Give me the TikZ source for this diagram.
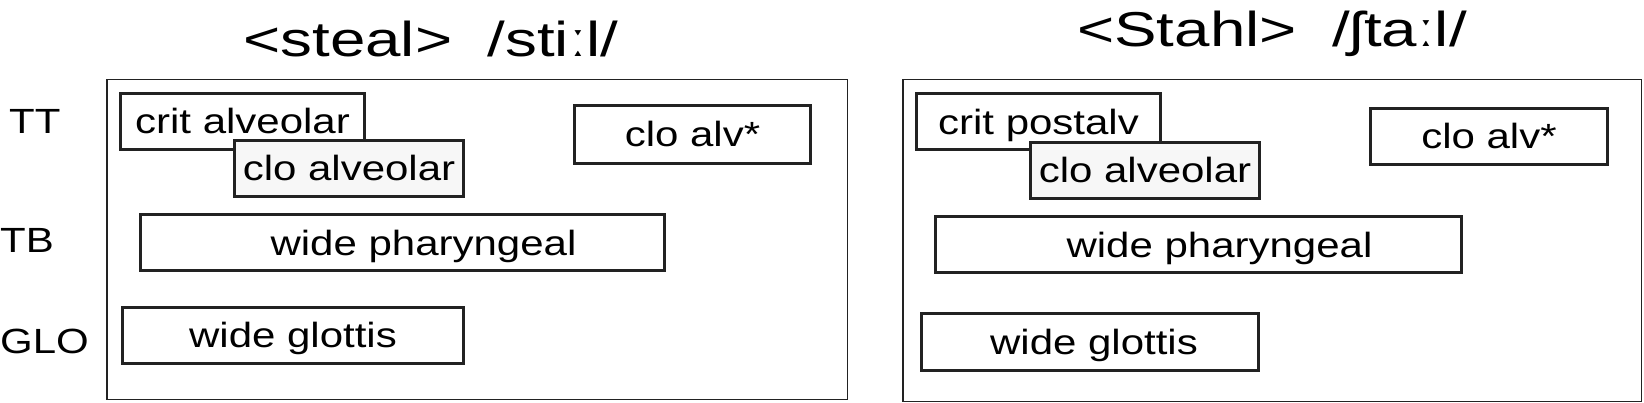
\documentclass[tikz,border=0pt]{standalone}
\usepackage{fontspec}
\setmainfont{Liberation Sans}[FakeStretch=1.2]
\newfontfamily\titlefont{Liberation Sans}[FakeStretch=1.3]
\usepackage{tikz}
\definecolor{ink}{HTML}{222222}

\begin{document}
\begin{tikzpicture}[x=1pt,y=-1pt,
  gesture/.style={draw=ink,line width=3pt,inner sep=0pt,minimum height=56pt,
    text height=25pt,text depth=0pt,font=\fontsize{35}{35}\selectfont},
  tier/.style={anchor=base west,inner sep=0pt,font=\fontsize{35}{35}\selectfont},
  panel/.style={draw=ink,line width=1.5pt,inner sep=0pt},
  word/.style={anchor=base,inner sep=0pt,font=\titlefont\fontsize{49}{49}\selectfont}]
  \useasboundingbox (0,0) rectangle (1644,403);

  % titles
  \node[word] (wordL) at (431,57) {<steal>\ \ /stiːl/};
  \node[word] (wordR) at (1272,47) {<Stahl>\ \ /ʃtaːl/};

  % tiers
  \node[tier] (TT)  at (9,134)  {TT};
  \node[tier] (TB)  at (0,253)  {TB};
  \node[tier] (GLO) at (0,353)  {GLO};

  % panels
  \node[panel,minimum width=740.5pt,minimum height=319.5pt] (panelL) at (477,239.5) {};
  \node[panel,minimum width=738.5pt,minimum height=321.5pt] (panelR) at (1272,240.5) {};

  % steal
  \node[gesture,minimum width=244pt] (critL) at (242.5,121.5) {crit alveolar\hspace{12pt}};
  \node[gesture,minimum width=229pt,fill=black!3] (cloL) at (349,168.5) {clo alveolar};
  \node[gesture,minimum width=236pt,minimum height=58pt] (alvL) at (692.5,134.5) {clo alv*};
  \node[gesture,minimum width=524pt] (pharL) at (402.5,243) {\hspace{42pt}wide pharyngeal};
  \node[gesture,minimum width=341pt] (glotL) at (293,335.5) {wide glottis};

  % Stahl
  \node[gesture,minimum width=244pt] (critR) at (1038.5,122) {crit postalv\hspace{22pt}};
  \node[gesture,minimum width=229pt,fill=black!3] (cloR) at (1145,170.5) {clo alveolar};
  \node[gesture,minimum width=237pt] (alvR) at (1489,136.5) {clo alv*};
  \node[gesture,minimum width=526pt] (pharR) at (1198.5,245) {\hspace{42pt}wide pharyngeal};
  \node[gesture,minimum width=337pt] (glotR) at (1090,342) {\hspace{8pt}wide glottis};
\end{tikzpicture}
\end{document}
